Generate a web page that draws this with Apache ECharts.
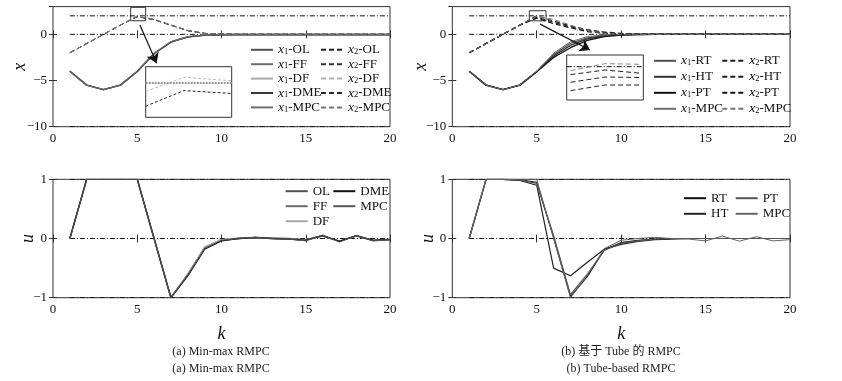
<!DOCTYPE html>
<html><head><meta charset="utf-8">
<script src="https://cdn.jsdelivr.net/npm/echarts@6/dist/echarts.min.js"></script>
<style>html,body{margin:0;padding:0;background:#fff}#c{width:842px;height:381px}</style>
</head><body><div id="c"></div>
<script>
// ---------- data ----------
const k = [1,2,3,4,5,6,7,8,9,10,11,12,13,14,15,16,17,18,19,20];
const xTicks = [0,5,10,15,20];
const yTicksX = [-10,-5,0];
const yTicksU = [-1,0,1];
const xUpper = 2, xLower = -10, uUpper = 1, uLower = -1, zeroRef = 0;

// (a) Min-max RMPC : states
const x1_OL  = [-4,-5.5,-6,-5.5,-4.02,-2.08,-0.83,-0.27,-0.08,-0.03,-0.02,-0.02,-0.02,-0.02,-0.02,-0.02,-0.02,-0.02,-0.02,-0.02];
const x1_FF  = [-4,-5.5,-6,-5.5,-4.03,-2.1,-0.85,-0.3,-0.1,-0.05,-0.04,-0.04,-0.04,-0.04,-0.04,-0.04,-0.04,-0.04,-0.04,-0.04];
const x1_DF  = [-4,-5.5,-6,-5.5,-4,-2.05,-0.8,-0.25,-0.07,-0.02,-0.01,0,0,0,0,0,0,0,0,0];
const x1_DME = [-4,-5.5,-6,-5.5,-4.02,-2.07,-0.82,-0.27,-0.09,-0.05,-0.06,-0.06,-0.06,-0.06,-0.06,-0.06,-0.06,-0.06,-0.06,-0.06];
const x1_MPC = [-4,-5.5,-6,-5.5,-4,-2.05,-0.8,-0.25,-0.06,-0.01,0,0,0,0,0,0,0,0,0,0];
const x2_OL  = [-2,-1,0,1,1.9,1.58,0.98,0.4,0.1,0.02,0,0,0,0,0,0,0,0,0,0];
const x2_FF  = [-2,-1,0,1,1.93,1.6,1.0,0.41,0.1,0.02,0,0,0,0,0,0,0,0,0,0];
const x2_DF  = [-2,-1,0,1,2.03,1.62,1.0,0.42,0.11,0.03,0,0,0,0,0,0,0,0,0,0];
const x2_DME = [-2,-1,0,1,1.92,1.59,0.99,0.4,0.1,0.02,0,0,0,0,0,0,0,0,0,0];
const x2_MPC = [-2,-1,0,1,1.95,1.6,1.0,0.4,0.1,0.02,0,0,0,0,0,0,0,0,0,0];
// (a) inputs
const u_OL  = [0,1,1,1,1,0,-1,-0.6,-0.15,-0.02,0,0.01,0,-0.01,-0.02,0.04,-0.04,0.04,-0.03,-0.01];
const u_FF  = [0,1,1,1,1,0,-1,-0.61,-0.16,-0.03,0,0.02,0.01,0,-0.02,0.05,-0.05,0.05,-0.03,-0.02];
const u_DF  = [0,1,1,1,1,0,-1,-0.62,-0.14,-0.02,0.01,0.02,0,-0.01,-0.03,0.04,-0.05,0.04,-0.04,-0.02];
const u_DME = [0,1,1,1,1,0,-1,-0.63,-0.18,-0.04,0,0.02,0,-0.01,-0.03,0.05,-0.05,0.05,-0.03,-0.02];
const u_MPC = [0,1,1,1,1,0,-1,-0.62,-0.17,-0.03,0,0.02,0,-0.01,-0.04,0.06,-0.06,0.05,-0.04,-0.02];

// (b) Tube-based RMPC : states
const x1_RT  = [-4,-5.5,-6,-5.5,-4.02,-2.2,-0.97,-0.38,-0.13,-0.04,-0.01,0,0,0,0,0,0,0,0,0];
const x1_HT  = [-4,-5.5,-6,-5.5,-4.05,-2.35,-1.2,-0.5,-0.18,-0.06,-0.02,0,0,0,0,0,0,0,0,0];
const x1_PT  = [-4,-5.5,-6,-5.5,-4.05,-2.5,-1.45,-0.65,-0.25,-0.08,-0.03,-0.01,0,0,0,0,0,0,0,0];
const x1_MPCb= [-4,-5.5,-6,-5.5,-4,-2.05,-0.8,-0.25,-0.06,-0.01,0,0,0,0,0,0,0,0,0,0];
const x2_RT  = [-2,-1,0,1,2.0,1.45,0.9,0.5,0.25,0.1,0.04,0.01,0,0,0,0,0,0,0,0];
const x2_HT  = [-2,-1,0,1,1.85,1.3,0.8,0.4,0.18,0.07,0.02,0,0,0,0,0,0,0,0,0];
const x2_PT  = [-2,-1,0,1,1.75,1.15,0.7,0.3,0.1,0.03,0.01,0,0,0,0,0,0,0,0,0];
const x2_MPCb= [-2,-1,0,1,1.95,1.6,1.0,0.4,0.1,0.02,0,0,0,0,0,0,0,0,0,0];
// (b) inputs
const u_RT  = [0,1,1,0.99,0.95,0.02,-0.98,-0.64,-0.19,-0.07,-0.03,-0.01,0,0,0,0,0,0,0,0];
const u_HT  = [0,1,1,0.98,0.9,-0.5,-0.63,-0.4,-0.18,-0.1,-0.05,-0.02,-0.01,0,0,0,0,0,0,0];
const u_PT  = [0,1,1,0.99,0.93,0.05,-0.95,-0.6,-0.2,-0.08,-0.04,-0.01,0,0,0,0,0,0,0,0];
const u_MPCb= [0,1,1,1,1,0,-1,-0.62,-0.17,-0.03,0,0.02,0,-0.01,-0.04,0.04,-0.045,0.03,-0.04,-0.02];

// zoom boxes (data coordinates) and inset contents
const boxA = [4.61, 5.5, 1.47, 2.92];
const boxB = [4.56, 5.55, 1.46, 2.55];
const insetA_k = [4.6, 5, 5.5];
const insetA_DF = [1.79, 2.14, 2.05];
const insetA_OL = [1.425, 1.81, 1.74];
const insetA_range = [4.6, 5.5, 1.15, 2.4];
const insetB_k = [4.55, 5, 5.48];
const insetB_MPC = [1.88, 2.09, 2.07];
const insetB_RT = [1.76, 1.90, 1.80];
const insetB_HT = [1.53, 1.69, 1.675];
const insetB_PT = [1.28, 1.45, 1.45];
const insetB_range = [4.5, 5.5, 1.0, 2.35];
const arrowA = [[5.16, 1.0], [6.15, -3.14]];
const arrowB = [[5.2, 1.1], [8.16, -1.7]];

// ---------- chart ----------
const SERIF = '"Liberation Serif","Times New Roman",serif';
const pairs = (xs, ys) => xs.map((x, i) => [x, ys[i]]);
const minus = v => (v < 0 ? '\u2212' + (-v) : '' + v);
const DASHDOT = [5, 2, 1, 2];

const grids = [
  {left: 53, top: 6.6, width: 337, height: 120.1},
  {left: 53, top: 179.3, width: 337, height: 118.4},
  {left: 452.3, top: 6.6, width: 337.7, height: 120.1},
  {left: 452.3, top: 179.3, width: 337.7, height: 118.4},
  {left: 145.7, top: 66.7, width: 86, height: 50.6},
  {left: 566.7, top: 55, width: 76.6, height: 45}
].map(g => Object.assign({show: true, borderColor: '#333', borderWidth: 1, backgroundColor: 'transparent', containLabel: false}, g));

const xAxis = [], yAxis = [];
const tick = {inside: true, length: 4, lineStyle: {color: '#333', width: 1}};
const yNameGap = [24, 16, 22, 15];
for (let g = 0; g < 4; g++) {
  const isBottom = g % 2 === 1;
  xAxis.push({type: 'value', gridIndex: g, position: 'bottom', min: xTicks[0], max: xTicks[xTicks.length - 1], interval: xTicks[1] - xTicks[0],
    axisLine: {show: false}, axisTick: tick, splitLine: {show: false},
    axisLabel: {fontFamily: SERIF, fontSize: 13, color: '#111', margin: 5},
    name: isBottom ? 'k' : '', nameLocation: 'middle', nameGap: 28,
    nameTextStyle: {fontFamily: SERIF, fontStyle: 'italic', fontSize: 18, color: '#111'}});
  xAxis.push({type: 'value', gridIndex: g, position: 'top', min: xTicks[0], max: xTicks[xTicks.length - 1], interval: xTicks[1] - xTicks[0],
    axisLine: {show: false}, axisTick: tick, splitLine: {show: false}, axisLabel: {show: false}});
  const yt = isBottom ? yTicksU : yTicksX;
  const ymax = isBottom ? yTicksU[yTicksU.length - 1] : 3;
  yAxis.push({type: 'value', gridIndex: g, position: 'left', min: yt[0], max: ymax, interval: yt[1] - yt[0],
    axisLine: {show: false}, axisTick: tick, splitLine: {show: false},
    axisLabel: {fontFamily: SERIF, fontSize: 13, color: '#111', margin: 6, formatter: minus, showMaxLabel: isBottom},
    name: isBottom ? 'u' : 'x', nameLocation: 'middle', nameRotate: 90, nameMoveOverlap: false,
    nameGap: yNameGap[g],
    nameTextStyle: {fontFamily: SERIF, fontStyle: 'italic', fontSize: 18, color: '#111'}});
  yAxis.push({type: 'value', gridIndex: g, position: 'right', min: yt[0], max: ymax, interval: yt[1] - yt[0],
    axisLine: {show: false}, axisTick: tick, splitLine: {show: false}, axisLabel: {show: false}});
}
[insetA_range, insetB_range].forEach((r, j) => {
  xAxis.push({type: 'value', gridIndex: 4 + j, min: r[0], max: r[1], show: false});
  yAxis.push({type: 'value', gridIndex: 4 + j, min: r[2], max: r[3], show: false});
});

const series = [];
function line(name, g, xs, ys, color, width, type, z) {
  const s = {name, type: 'line', xAxisIndex: 2 * g, yAxisIndex: 2 * g, data: pairs(xs, ys), symbol: 'none', silent: true,
    lineStyle: {color, width, type: type || 'solid'}, itemStyle: {color}, z: z || 2, clip: true};
  series.push(s);
  return s;
}
function inset(name, idx, xs, ys, color, width, type) {
  series.push({name, type: 'line', xAxisIndex: 8 + idx, yAxisIndex: 8 + idx, data: pairs(xs, ys), symbol: 'none', silent: true,
    lineStyle: {color, width, type}, itemStyle: {color}});
}
function constraints(g, up, lo) {
  const arr = [];
  [up, zeroRef, lo].forEach((v, i) => {
    arr.push(line('c' + g + '_' + i, g, [k[0], k[k.length - 1]], [v, v], '#111', 1, DASHDOT, 1));
  });
  return arr;
}
const DASH = [5, 3];

// top-left
const cA = constraints(0, xUpper, xLower);
line('x1-OL', 0, k, x1_OL, '#505050', 1.3);
line('x1-FF', 0, k, x1_FF, '#6a6a6a', 1.3);
line('x1-DF', 0, k, x1_DF, '#a8a8a8', 1.3);
line('x1-DME', 0, k, x1_DME, '#3a3a3a', 1.3);
line('x1-MPC', 0, k, x1_MPC, '#6e6e6e', 1);
line('x2-OL', 0, k, x2_OL, '#222', 1, DASH);
line('x2-FF', 0, k, x2_FF, '#333', 1, DASH);
line('x2-DF', 0, k, x2_DF, '#b0b0b0', 1, DASH);
line('x2-DME', 0, k, x2_DME, '#2a2a2a', 1, DASH);
line('x2-MPC', 0, k, x2_MPC, '#777', 1, DASH);
cA[0].markArea = {silent: true, itemStyle: {color: 'rgba(0,0,0,0)', borderColor: '#333', borderWidth: 1},
  data: [[{coord: [boxA[0], boxA[3]]}, {coord: [boxA[1], boxA[2]]}]]};
cA[1].markLine = {silent: true, symbol: ['none', 'arrow'], symbolSize: 10, label: {show: false},
  lineStyle: {color: '#111', width: 1.2, type: 'solid', curveness: -0.35},
  data: [[{coord: arrowA[0]}, {coord: arrowA[1]}]]};

// bottom-left
constraints(1, uUpper, uLower);
line('OL', 1, k, u_OL, '#505050', 1.3);
line('FF', 1, k, u_FF, '#6a6a6a', 1.3);
line('DF', 1, k, u_DF, '#a8a8a8', 1.3);
line('DME', 1, k, u_DME, '#111', 1.3);
line('MPC', 1, k, u_MPC, '#555', 1);

// top-right
const cB = constraints(2, xUpper, xLower);
line('x1-RT', 2, k, x1_RT, '#505050', 1.3);
line('x1-HT', 2, k, x1_HT, '#333', 1.3);
line('x1-PT', 2, k, x1_PT, '#111', 1.3);
line('x1-MPC#b', 2, k, x1_MPCb, '#6e6e6e', 1);
line('x2-RT', 2, k, x2_RT, '#222', 1.2, DASH);
line('x2-HT', 2, k, x2_HT, '#222', 1.2, DASH);
line('x2-PT', 2, k, x2_PT, '#111', 1.2, DASH);
line('x2-MPC#b', 2, k, x2_MPCb, '#777', 1, DASH);
cB[0].markArea = {silent: true, itemStyle: {color: 'rgba(0,0,0,0)', borderColor: '#333', borderWidth: 1},
  data: [[{coord: [boxB[0], boxB[3]]}, {coord: [boxB[1], boxB[2]]}]]};
cB[1].markLine = {silent: true, symbol: ['none', 'arrow'], symbolSize: 10, label: {show: false},
  lineStyle: {color: '#111', width: 1.2, type: 'solid', curveness: 0},
  data: [[{coord: arrowB[0]}, {coord: arrowB[1]}]]};

// bottom-right
constraints(3, uUpper, uLower);
line('RT', 3, k, u_RT, '#111', 1.2);
line('HT', 3, k, u_HT, '#222', 1.2);
line('PT', 3, k, u_PT, '#555', 1.2);
line('MPC#b', 3, k, u_MPCb, '#666', 1);

// insets
inset('ia_c', 0, [insetA_range[0], insetA_range[1]], [xUpper, xUpper], '#999', 2, [2, 1]);
inset('ia_df', 0, insetA_k, insetA_DF, '#bbb', 1, [3, 2]);
inset('ia_ol', 0, insetA_k, insetA_OL, '#222', 1, [3, 2]);
inset('ib_c', 1, [insetB_range[0], insetB_range[1]], [xUpper, xUpper], '#111', 1, DASHDOT);
inset('ib_mpc', 1, insetB_k, insetB_MPC, '#888', 1, [5, 3]);
inset('ib_rt', 1, insetB_k, insetB_RT, '#222', 1, [5, 3]);
inset('ib_ht', 1, insetB_k, insetB_HT, '#222', 1, [5, 3]);
inset('ib_pt', 1, insetB_k, insetB_PT, '#222', 1, [5, 3]);

// legends
const rich = {
  i: {fontFamily: SERIF, fontStyle: 'italic', fontSize: 13.5, color: '#111', lineHeight: 13},
  s: {fontFamily: SERIF, fontSize: 8.5, color: '#111', lineHeight: 13, verticalAlign: 'bottom'},
  n: {fontFamily: SERIF, fontSize: 13, color: '#111', lineHeight: 13}
};
function fmt(name) {
  const n = name.replace('#b', '');
  const m = n.match(/^x(\d)-(.*)$/);
  if (m) return '{i|x}{s|' + m[1] + '}{n|-' + m[2] + '}';
  return '{n|' + n + '}';
}
function legend(left, top, data, gap) {
  return {left, top, orient: 'vertical', data, itemWidth: 22, itemHeight: 12, itemGap: gap, selectedMode: false,
    itemStyle: {opacity: 0, borderWidth: 0},
    formatter: fmt, textStyle: {rich, fontFamily: SERIF, fontSize: 13, color: '#111', lineHeight: 13}, padding: 0};
}
const legends = [
  legend(250, 42.8, ['x1-OL', 'x1-FF', 'x1-DF', 'x1-DME', 'x1-MPC'], 0.4),
  legend(320, 42.8, ['x2-OL', 'x2-FF', 'x2-DF', 'x2-DME', 'x2-MPC'], 0.4),
  legend(653, 53.8, ['x1-RT', 'x1-HT', 'x1-PT', 'x1-MPC#b'], 2),
  legend(721.3, 53.8, ['x2-RT', 'x2-HT', 'x2-PT', 'x2-MPC#b'], 2),
  legend(284.7, 184.7, ['OL', 'FF', 'DF'], 2),
  legend(332.3, 184.7, ['DME', 'MPC'], 2),
  legend(683, 191.7, ['RT', 'HT'], 2.6),
  legend(734.7, 191.7, ['PT', 'MPC#b'], 2.6)
];

const capFont = '12px ' + SERIF + ',"Noto Sans CJK SC"';
const cap = (text, x, y) => ({type: 'text', style: {text, x, y, textAlign: 'center', textVerticalAlign: 'middle', verticalAlign: 'middle', font: capFont, fill: '#222'}});
const graphic = [
  cap('(a) Min-max RMPC', 221, 352),
  cap('(a) Min-max RMPC', 221, 369),
  cap('(b) 基于 Tube 的 RMPC', 621, 352),
  cap('(b) Tube-based RMPC', 621, 369)
];

const chart = echarts.init(document.getElementById('c'), null, {renderer: 'canvas'});
chart.setOption({animation: false, backgroundColor: '#fff', grid: grids, xAxis, yAxis, series, legend: legends, graphic});
</script></body></html>
